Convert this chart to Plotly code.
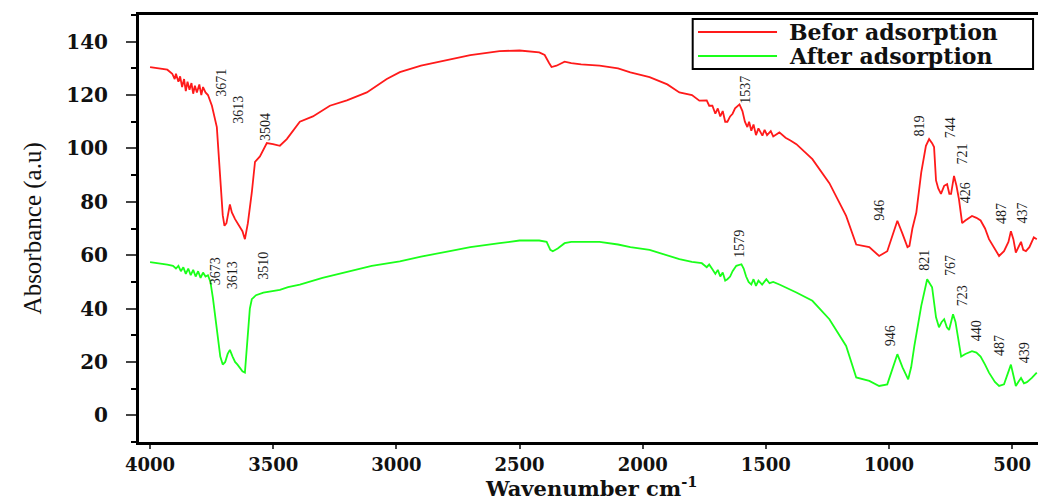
import plotly.graph_objects as go

# ---- data ----
wn_before = [4000, 3960, 3930, 3910, 3900, 3895, 3885, 3878, 3870, 3862, 3855, 3848, 3840, 3832, 3825,
             3818, 3810, 3800, 3792, 3785, 3775, 3765, 3749, 3729, 3716, 3705, 3698, 3690, 3676, 3668,
             3655, 3645, 3635, 3625, 3615, 3603, 3587, 3574, 3554, 3526, 3501, 3473, 3445, 3392, 3339,
             3270, 3201, 3120, 3039, 2986, 2900, 2783, 2700, 2581, 2500, 2420, 2398, 2380, 2370, 2350,
             2330, 2317, 2290, 2250, 2175, 2100, 2050, 1972, 1900, 1851, 1800, 1770, 1740, 1730, 1717,
             1705, 1695, 1685, 1675, 1665, 1656, 1645, 1635, 1625, 1607, 1595, 1585, 1575, 1568, 1559,
             1550, 1540, 1530, 1514, 1505, 1495, 1480, 1470, 1445, 1420, 1400, 1376, 1311, 1242, 1174,
             1133, 1080, 1040, 1007, 985, 966, 945, 925, 917, 905, 889, 869, 850, 837, 825,
             817, 809, 800, 789, 776, 764, 755, 748, 736, 726, 716, 703, 690, 663, 645,
             628, 610, 594, 570, 553, 533, 515, 505, 495, 485, 475, 464, 455, 444, 430,
             412, 400]
abs_before = [130.5, 130, 129.5, 128, 126, 128, 125, 127, 123, 126, 121.5, 125, 122, 124.5, 120.5,
              123.5, 121, 124, 120, 123, 121, 120, 116, 108, 92, 75, 71, 72, 79, 76,
              73.5, 72, 71, 69, 66, 72, 83.5, 95, 97, 102, 101.6, 101, 103.5, 110, 112,
              116, 118, 121, 126, 128.6, 131, 133.5, 135, 136.5, 136.7, 136, 135, 132, 130.5, 131,
              132, 132.5, 132, 131.5, 131, 130, 128.5, 126.7, 124, 121, 120, 117.9, 118, 116, 116,
              113, 115, 112, 114, 110, 110, 112, 113, 115, 116.5, 114, 110, 108, 110, 106.6,
              109, 105, 107.5, 104.8, 107, 105, 106.5, 104.5, 106, 104, 103, 101.6, 96, 87, 74.7,
              64, 63, 59.7, 61.5, 68, 72.9, 68, 63, 63.5, 70, 76, 91, 101, 103.5, 102,
              100.5, 88, 85, 83, 86, 86.6, 83, 83, 89.7, 86, 81, 72, 73, 74.7, 74,
              73, 70, 66, 62, 59.7, 61.5, 65, 69, 66, 61, 63, 65, 62, 61.5, 63,
              66.7, 66]

wn_after = [4000, 3960, 3930, 3907, 3895, 3885, 3875, 3865, 3855, 3845, 3835, 3825, 3815, 3805, 3795,
            3785, 3775, 3765, 3755, 3745, 3735, 3725, 3715, 3705, 3695, 3685, 3676, 3665, 3655, 3645,
            3635, 3625, 3615, 3605, 3595, 3587, 3570, 3540, 3500, 3473, 3440, 3392, 3300, 3189, 3100,
            2986, 2900, 2783, 2700, 2581, 2500, 2420, 2390, 2375, 2365, 2345, 2330, 2317, 2290, 2250,
            2175, 2100, 2050, 1972, 1900, 1851, 1800, 1782, 1760, 1740, 1730, 1717, 1705, 1695, 1685,
            1675, 1665, 1656, 1645, 1635, 1620, 1599, 1590, 1580, 1570, 1559, 1550, 1540, 1530, 1515,
            1498, 1485, 1470, 1445, 1420, 1400, 1376, 1311, 1242, 1174, 1133, 1080, 1040, 1007, 985,
            966, 945, 922, 910, 897, 869, 845, 825, 809, 797, 786, 776, 765, 756, 748,
            740, 730, 724, 707, 690, 663, 645, 628, 610, 594, 570, 553, 533, 515, 505,
            495, 485, 475, 464, 452, 440, 420, 400]
abs_after = [57.4, 57, 56.5, 56, 55, 56, 54, 55.5, 53, 55, 52.5, 54.5, 52, 54, 51.5,
             53.5, 52, 52.5, 50, 44, 36, 28, 22, 19, 20, 23, 24.5, 22, 20, 19,
             17.5, 16.5, 16, 30, 40, 43.5, 45, 46, 46.5, 47, 48, 49, 51.5, 54, 56,
             57.7, 59.5, 61.5, 63, 64.5, 65.5, 65.5, 65, 62, 61.5, 62.5, 63.5, 64.5, 65, 65,
             65, 64, 63, 62, 60, 58.5, 57.5, 57.3, 57, 55.5, 56.5, 54.7, 53, 54.5, 52,
             53.5, 50.5, 51, 52, 54, 56, 56.6, 55, 52, 50, 49, 51, 48.5, 50.5, 49,
             51, 49.5, 50, 49, 48, 47, 46, 42.9, 36, 26, 14.2, 12.9, 11, 11.6, 18,
             22.9, 18, 13.5, 18, 26, 41, 51, 48, 36.7, 33, 35, 36, 33, 32, 35,
             37.9, 35, 31.6, 22, 23, 24, 23.5, 22, 19, 16, 12.5, 11, 11.6, 16, 19,
             15, 11, 12.5, 14, 12, 12.4, 14, 16]

# peak labels: (text, wavenumber position, absorbance position)
labels_before = ["3671", "3613", "3504", "1537", "946", "819", "744", "721", "426", "487", "437"]
lab_before_x = [3713, 3639, 3531, 1580, 1037, 875, 749, 702, 688, 546, 459]
lab_before_y = [124.5, 114.5, 107.9, 122, 77, 108.5, 107.9, 97.9, 83.5, 75.7, 75.7]

labels_after = ["3673", "3613", "3510", "1579", "946", "821", "767", "723", "440", "487", "439"]
lab_after_x = [3736, 3667, 3538, 1607, 995, 857, 748, 703, 642, 549, 452]
lab_after_y = [54, 52.5, 56, 64.5, 29.7, 58, 56, 44.7, 31.6, 26, 23.6]

series_names = ["Befor adsorption", "After adsorption"]
series_colors = ["#ff1a1a", "#1aff1a"]

y_ticks = [0, 20, 40, 60, 80, 100, 120, 140]
x_ticks = [4000, 3500, 3000, 2500, 2000, 1500, 1000, 500]

# ---- figure ----
fig = go.Figure()
fig.add_trace(go.Scatter(x=wn_before, y=abs_before, mode="lines", name=series_names[0],
                         line=dict(color=series_colors[0], width=1.8), showlegend=False))
fig.add_trace(go.Scatter(x=wn_after, y=abs_after, mode="lines", name=series_names[1],
                         line=dict(color=series_colors[1], width=1.8), showlegend=False))

lab_font = dict(family="Liberation Serif", size=14, color="#1a1a1a")
for t, x, y in zip(labels_before + labels_after, lab_before_x + lab_after_x, lab_before_y + lab_after_y):
    fig.add_annotation(x=x, y=y, text=t, showarrow=False, textangle=-90, font=lab_font,
                       xanchor="center", yanchor="middle")

# axis titles
fig.add_annotation(xref="paper", yref="paper", x=-0.118, y=0.5, text="Absorbance (a.u)",
                   showarrow=False, textangle=-90, xanchor="center", yanchor="middle",
                   font=dict(family="Liberation Serif", size=25, color="#111"))
fig.add_annotation(xref="paper", yref="paper", x=0.503, y=-0.1425,
                   text="Wavenumber cm<sup>-1</sup>", showarrow=False,
                   xanchor="center", yanchor="bottom",
                   font=dict(family="DejaVu Serif", size=21, color="#111", weight="bold"))

# legend box drawn by hand to match the long line samples
fig.add_shape(type="rect", xref="paper", yref="paper", x0=0.6159, x1=0.9945, y0=0.8735, y1=0.9906,
              line=dict(color="black", width=2), fillcolor="white", layer="above")
for i, (nm, col) in enumerate(zip(series_names, series_colors)):
    yy = 0.960 - i * 0.056
    fig.add_shape(type="line", xref="paper", yref="paper", x0=0.6218, x1=0.7097, y0=yy, y1=yy,
                  line=dict(color=col, width=2), layer="above")
    fig.add_annotation(xref="paper", yref="paper", x=0.7208, y=yy, text=nm,
                       showarrow=False, xanchor="left", yanchor="middle",
                       font=dict(family="DejaVu Serif", size=22, color="#111", weight="bold"))

fig.update_layout(
    width=1038, height=503,
    margin=dict(l=139, r=0, t=15, b=61),
    paper_bgcolor="white", plot_bgcolor="white",
    xaxis=dict(range=[4045, 395], tickvals=x_ticks, ticks="outside", ticklen=4, tickwidth=2,
               showline=True, linewidth=3, linecolor="black", mirror=True, showgrid=False,
               zeroline=False, ticklabelstandoff=0,
               tickfont=dict(family="DejaVu Serif", size=18, color="#111", weight="bold")),
    yaxis=dict(range=[-10, 150], tickvals=y_ticks, ticks="outside", ticklen=10, tickwidth=2,
               showline=True, linewidth=3, linecolor="black", showgrid=False, zeroline=False,
               tickfont=dict(family="DejaVu Serif", size=20, color="#111", weight="bold"),
               ticklabelstandoff=14,
               minor=dict(dtick=10, ticks="outside", ticklen=5, tickwidth=2, tickcolor="black")),
)

fig.write_html("out.html")
